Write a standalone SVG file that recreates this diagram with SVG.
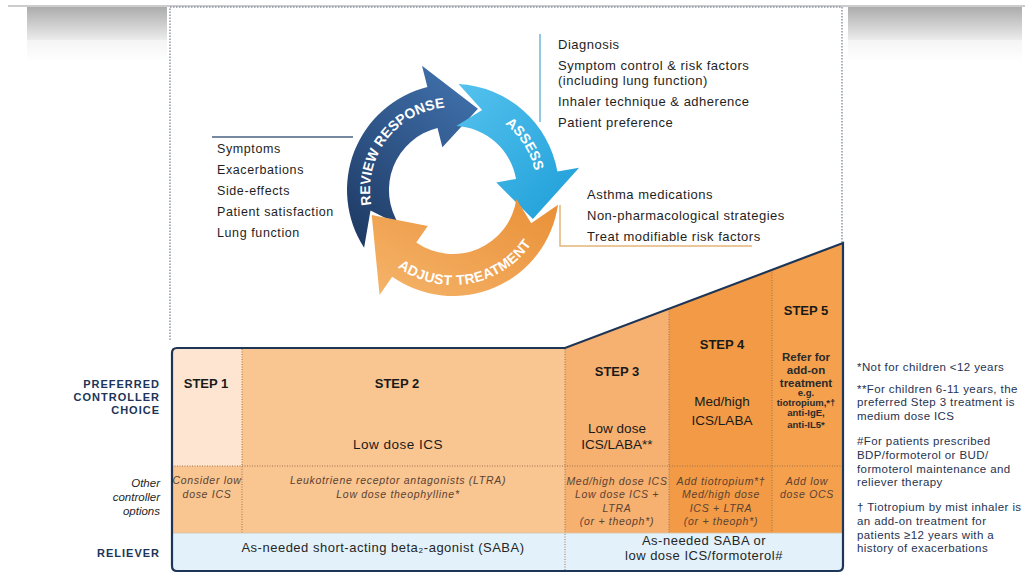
<svg xmlns="http://www.w3.org/2000/svg" width="1025" height="577" viewBox="0 0 1025 577">
  <defs>
    <linearGradient id="gHeader" x1="0" y1="0" x2="0" y2="1">
      <stop offset="0" stop-color="#acacac"/>
      <stop offset="1" stop-color="#ececec"/>
    </linearGradient>
    <linearGradient id="gHeaderFade" x1="0" y1="0" x2="0" y2="1">
      <stop offset="0" stop-color="#f4f4f4"/>
      <stop offset="1" stop-color="#ffffff"/>
    </linearGradient>
    <linearGradient id="gReview" x1="0" y1="1" x2="0.6" y2="0">
      <stop offset="0" stop-color="#1d3760"/>
      <stop offset="1" stop-color="#3d6ca6"/>
    </linearGradient>
    <linearGradient id="gAssess" x1="0" y1="0" x2="1" y2="1">
      <stop offset="0" stop-color="#55c2ee"/>
      <stop offset="1" stop-color="#1d9ed8"/>
    </linearGradient>
    <linearGradient id="gAdjust" x1="1" y1="0" x2="0" y2="1">
      <stop offset="0" stop-color="#e98f36"/>
      <stop offset="1" stop-color="#f5b46a"/>
    </linearGradient>
    <!-- baselines for the lettering on the cycle -->
    <path id="arcReview" d="M372.5,210.1 A83,83 0 0 1 450.1,107.0"/>
    <path id="arcAssess" d="M488.5,113.9 A84,84 0 0 1 537,190"/>
    <path id="arcAdjust" d="M380.2,251.1 A95,95 0 0 0 542.3,222.5"/>
  </defs>
  <style>
    text { font-family: "Liberation Sans", Arial, sans-serif; }
    .list { font-size: 13px; fill: #1e1e1e; letter-spacing: 0.5px; }
    .llist { font-size: 12.5px; fill: #1e1e1e; letter-spacing: 0.6px; }
    .cyc { font-size: 14px; font-weight: bold; fill: #ffffff; }
    .step { font-size: 13px; font-weight: bold; fill: #1a1a1a; text-anchor: middle; }
    .pref { font-size: 13.5px; fill: #1a1a1a; text-anchor: middle; }
    .s5 { font-size: 11.5px; font-weight: bold; fill: #2a2a2a; text-anchor: middle; }
    .s5s { font-size: 9.5px; font-weight: bold; fill: #2a2a2a; text-anchor: middle; }
    .other { font-size: 10.5px; font-style: italic; fill: #5a4232; text-anchor: middle; letter-spacing: 0.7px; }
    .rel { font-size: 13px; fill: #262626; text-anchor: middle; letter-spacing: 0.5px; }
    .rowlab { font-size: 11px; font-weight: bold; fill: #1c3558; text-anchor: end; letter-spacing: 1px; }
    .rowlabi { font-size: 11.5px; font-style: italic; fill: #1e1e1e; text-anchor: end; }
    .note { font-size: 11.5px; fill: #1f3350; letter-spacing: 0.4px; }
    .dots { fill: none; stroke: #8a96a6; stroke-width: 1.5; stroke-dasharray: 1.5 1.5; }
    .div { fill: none; stroke: #a0724a; stroke-width: 1; stroke-dasharray: 1 1.5; }
  </style>

  <!-- page header strip -->
  <g id="header">
    <line x1="8" y1="6" x2="1025" y2="6" stroke="#9a9a9a" stroke-width="1"/>
    <rect x="27" y="7" width="140" height="33" fill="url(#gHeader)"/>
    <rect x="848" y="7" width="174" height="33" fill="url(#gHeader)"/>
    <rect x="27" y="40" width="140" height="22" fill="url(#gHeaderFade)"/>
    <rect x="848" y="40" width="174" height="22" fill="url(#gHeaderFade)"/>
  </g>

  <!-- dotted frame around the management cycle -->
  <g id="cycle-frame">
    <polyline class="dots" points="170,340 170,7 842,7 842,243"/>
  </g>

  <!-- leader lines from the cycle to its lists -->
  <g id="connectors">
    <line x1="212" y1="137" x2="353" y2="137" stroke="#4a6282" stroke-width="1.5"/>
    <line x1="540" y1="34" x2="540" y2="122" stroke="#6fb6d6" stroke-width="1.5"/>
    <polyline points="560,205 560,246 752,246" fill="none" stroke="#e2b57a" stroke-width="1.5"/>
  </g>

  <!-- cycle arrows -->
  <g id="review-response">
    <path d="M364.1,247.7 A106,106 0 0 1 427.4,87.1 L422.0,65.8 L477.9,108.7 L442.4,147.3 L437.5,127.9 A64,64 0 0 0 399.3,224.9 L370.5,210.6 Z" fill="url(#gReview)"/>
    <text class="cyc"><textPath href="#arcReview" startOffset="50%" text-anchor="middle">REVIEW RESPONSE</textPath></text>
  </g>
  <g id="assess">
    <path d="M458.5,84.1 A106,106 0 0 1 557.4,171.6 L579.1,167.8 L532.9,219.1 L496.3,182.4 L516.0,178.9 A64,64 0 0 0 456.3,126.1 L482.1,110.1 Z" fill="url(#gAssess)"/>
    <text class="cyc"><textPath href="#arcAssess" startOffset="50%" text-anchor="middle">ASSESS</textPath></text>
  </g>
  <g id="adjust-treatment">
    <path d="M558.0,204.8 A106,106 0 0 1 392.2,276.8 L379.6,294.9 L371.7,214.9 L427.8,226.0 L416.3,242.4 A64,64 0 0 0 516.4,198.9 L531.2,223.2 Z" fill="url(#gAdjust)"/>
    <text class="cyc" letter-spacing="0.4"><textPath href="#arcAdjust" startOffset="50%" text-anchor="middle">ADJUST TREATMENT</textPath></text>
  </g>

  <!-- lists around the cycle -->
  <g id="review-list">
    <text class="llist" x="217" y="153">Symptoms</text>
    <text class="llist" x="217" y="174">Exacerbations</text>
    <text class="llist" x="217" y="195">Side-effects</text>
    <text class="llist" x="217" y="216">Patient satisfaction</text>
    <text class="llist" x="217" y="237">Lung function</text>
  </g>
  <g id="assess-list">
    <text class="list" x="558" y="49">Diagnosis</text>
    <text class="list" x="558" y="70">Symptom control &amp; risk factors</text>
    <text class="list" x="558" y="85">(including lung function)</text>
    <text class="list" x="558" y="106">Inhaler technique &amp; adherence</text>
    <text class="list" x="558" y="127">Patient preference</text>
  </g>
  <g id="adjust-list">
    <text class="list" x="587" y="199">Asthma medications</text>
    <text class="list" x="587" y="220">Non-pharmacological strategies</text>
    <text class="list" x="587" y="241">Treat modifiable risk factors</text>
  </g>

  <!-- stepwise treatment table -->
  <g id="step-table">
    <!-- preferred controller row -->
    <rect x="172" y="348" width="70" height="118" fill="#fde5d2"/>
    <rect x="242" y="348" width="323" height="118" fill="#f9c591"/>
    <polygon points="565,348 669,308.7 669,466 565,466" fill="#f6b070"/>
    <polygon points="669,308.7 772,269.8 772,466 669,466" fill="#f29a45"/>
    <polygon points="772,269.8 843,243 843,466 772,466" fill="#f4a04d"/>
    <!-- other controller options row -->
    <rect x="172" y="466" width="393" height="67" fill="#f9c591"/>
    <rect x="565" y="466" width="104" height="67" fill="#f6b070"/>
    <rect x="669" y="466" width="103" height="67" fill="#f29a45"/>
    <rect x="772" y="466" width="71" height="67" fill="#f4a04d"/>
    <!-- reliever row -->
    <rect x="172" y="533" width="671" height="38" fill="#e3f2fa"/>
    <!-- cell dividers -->
    <line class="div" x1="242" y1="349" x2="242" y2="533"/>
    <line class="div" x1="565" y1="349" x2="565" y2="571"/>
    <line class="div" x1="669" y1="309" x2="669" y2="533"/>
    <line class="div" x1="772" y1="270" x2="772" y2="533"/>
    <line class="div" x1="172" y1="466" x2="843" y2="466"/>
    <line x1="172" y1="533" x2="843" y2="533" stroke="#d8c2a8" stroke-width="0.8"/>
    <!-- outline -->
    <path d="M172,353 Q172,348 177,348 L565,348 L843,243 L843,566 Q843,571 838,571 L177,571 Q172,571 172,566 Z" fill="none" stroke="#1d3557" stroke-width="2.2"/>
  </g>

  <g id="row-labels">
    <text class="rowlab" x="160" y="388">PREFERRED</text>
    <text class="rowlab" x="160" y="401">CONTROLLER</text>
    <text class="rowlab" x="160" y="414">CHOICE</text>
    <text class="rowlabi" x="160" y="487">Other</text>
    <text class="rowlabi" x="160" y="501">controller</text>
    <text class="rowlabi" x="160" y="515">options</text>
    <text class="rowlab" x="160" y="557">RELIEVER</text>
  </g>

  <g id="step-1">
    <text class="step" x="206" y="388">STEP 1</text>
    <text class="other" x="207" y="484">Consider low</text>
    <text class="other" x="207" y="498">dose ICS</text>
  </g>
  <g id="step-2">
    <text class="step" x="397" y="388">STEP 2</text>
    <text class="pref" x="398" y="449" font-size="17.5" letter-spacing="0.5">Low dose ICS</text>
    <text class="other" x="398" y="484">Leukotriene receptor antagonists (LTRA)</text>
    <text class="other" x="398" y="498">Low dose theophylline*</text>
  </g>
  <g id="step-3">
    <text class="step" x="617" y="376">STEP 3</text>
    <text class="pref" x="617" y="433">Low dose</text>
    <text class="pref" x="617" y="449">ICS/LABA**</text>
    <text class="other" x="617" y="485">Med/high dose ICS</text>
    <text class="other" x="617" y="498">Low dose ICS +</text>
    <text class="other" x="617" y="512">LTRA</text>
    <text class="other" x="617" y="525">(or + theoph*)</text>
  </g>
  <g id="step-4">
    <text class="step" x="722" y="349">STEP 4</text>
    <text class="pref" x="722" y="406" font-size="14">Med/high</text>
    <text class="pref" x="722" y="425" font-size="14">ICS/LABA</text>
    <text class="other" x="721" y="485">Add tiotropium*†</text>
    <text class="other" x="721" y="498">Med/high dose</text>
    <text class="other" x="721" y="512">ICS + LTRA</text>
    <text class="other" x="721" y="525">(or + theoph*)</text>
  </g>
  <g id="step-5">
    <text class="step" x="806" y="315">STEP 5</text>
    <text class="s5" x="806" y="361">Refer for</text>
    <text class="s5" x="806" y="374">add-on</text>
    <text class="s5" x="806" y="387">treatment</text>
    <text class="s5s" x="806" y="396">e.g.</text>
    <text class="s5s" x="806" y="406">tiotropium,*†</text>
    <text class="s5s" x="806" y="416">anti-IgE,</text>
    <text class="s5s" x="806" y="428">anti-IL5*</text>
    <text class="other" x="807" y="485">Add low</text>
    <text class="other" x="807" y="498">dose OCS</text>
  </g>
  <g id="reliever">
    <text class="rel" x="383" y="552">As-needed short-acting beta₂-agonist (SABA)</text>
    <text class="rel" x="704" y="545">As-needed SABA or</text>
    <text class="rel" x="704" y="560">low dose ICS/formoterol#</text>
  </g>

  <g id="footnotes">
    <text class="note" x="857" y="371">*Not for children &lt;12 years</text>
    <text class="note" x="857" y="393">**For children 6-11 years, the</text>
    <text class="note" x="857" y="406">preferred Step 3 treatment is</text>
    <text class="note" x="857" y="420">medium dose ICS</text>
    <text class="note" x="857" y="445">#For patients prescribed</text>
    <text class="note" x="857" y="459">BDP/formoterol or BUD/</text>
    <text class="note" x="857" y="473">formoterol maintenance and</text>
    <text class="note" x="857" y="486">reliever therapy</text>
    <text class="note" x="857" y="511">† Tiotropium by mist inhaler is</text>
    <text class="note" x="857" y="525">an add-on treatment for</text>
    <text class="note" x="857" y="539">patients ≥12 years with a</text>
    <text class="note" x="857" y="552">history of exacerbations</text>
  </g>
</svg>
